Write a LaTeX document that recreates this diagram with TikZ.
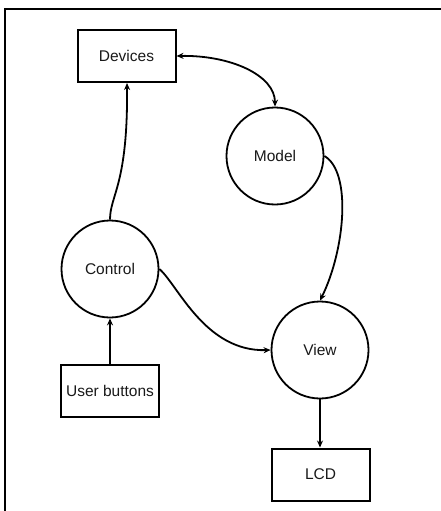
\documentclass[tikz,border=0pt]{standalone}
\usepackage{fontspec}
\setmainfont{Liberation Sans}
\usetikzlibrary{arrows.meta}
\begin{document}
\begin{tikzpicture}[x=1pt,y=-1pt,
  every node/.style={font=\fontsize{15.5}{18}\selectfont, text=black!90},
  blockbox/.style={draw, line width=2pt, minimum width=98pt, minimum height=52pt, inner sep=0pt},
  roundnode/.style={draw, circle, line width=1.8pt, minimum size=97pt, inner sep=0pt},
  link/.style={line width=1.8pt, -{Stealth[length=7pt,width=6pt]}},
  twoway/.style={line width=1.8pt, {Stealth[length=7pt,width=6pt]}-{Stealth[length=7pt,width=6pt]}}]
  \useasboundingbox (0,0) rectangle (441,511);
  % frame along the top and left edges
  \draw[line width=2.6pt] (441,9) -- (5,9) -- (5,511);

  \node[blockbox]   (dev)  at (126.5,56) {Devices};
  \node[roundnode]  (mod)  at (275,156)  {Model};
  \node[roundnode]  (ctl)  at (110,269)  {Control};
  \node[roundnode]  (view) at (320,350)  {View};
  \node[blockbox]   (btn)  at (110,390.5) {User buttons};
  \node[blockbox]   (lcd)  at (320.5,474.5) {LCD};

  \draw[twoway] (dev.east) .. controls (230,55) and (275,75) .. (mod.north);
  \draw[link] (ctl.north) .. controls (110,195) and (128,185) .. (dev.south -| 127,0);
  \draw[link] (mod.east) .. controls (352,172) and (345,250) .. (view.north);
  \draw[link] (ctl.east) .. controls (178,285) and (205,352) .. (view.west);
  \draw[link] (btn.north) -- (ctl.south);
  \draw[link] (view.south) -- (lcd.north -| view.south);
\end{tikzpicture}
\end{document}
